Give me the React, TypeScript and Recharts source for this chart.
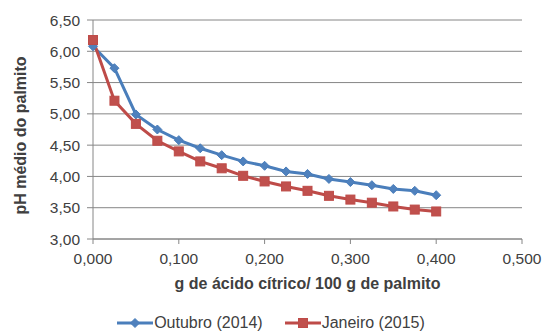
import React from 'react';
import { LineChart, Line, XAxis, YAxis, CartesianGrid, Legend } from 'recharts';

const doses = [0, 0.025, 0.05, 0.075, 0.1, 0.125, 0.15, 0.175, 0.2, 0.225, 0.25, 0.275, 0.3, 0.325, 0.35, 0.375, 0.4];
const outubro2014 = [6.08, 5.73, 4.99, 4.75, 4.58, 4.45, 4.34, 4.24, 4.17, 4.08, 4.04, 3.96, 3.91, 3.86, 3.8, 3.77, 3.7];
const janeiro2015 = [6.18, 5.21, 4.84, 4.57, 4.4, 4.24, 4.13, 4.01, 3.92, 3.84, 3.77, 3.69, 3.63, 3.58, 3.52, 3.47, 3.44];
const xTicks = [0, 0.1, 0.2, 0.3, 0.4, 0.5];
const yTicks = [3, 3.5, 4, 4.5, 5, 5.5, 6, 6.5];
const seriesNames = ['Outubro (2014)', 'Janeiro (2015)'];
const xTitle = 'g de ácido cítrico/ 100 g de palmito';
const yTitle = 'pH médio do palmito';

const data = doses.map((d, i) => ({ x: d, a: outubro2014[i], b: janeiro2015[i] }));

const BLUE = '#4A7EBB';
const BLUE_FILL = '#4F81BD';
const RED = '#BE4B48';
const RED_FILL = '#C0504D';
const FONT = '"Liberation Sans", Arial, sans-serif';
const AXIS = '#868686';
const TEXT = '#404040';

const fmt = (v: number, d: number) => v.toFixed(d).replace('.', ',');

const Diamond = (props: any) => {
  const { cx, cy } = props;
  if (cx == null || cy == null) return null;
  const r = 4.5;
  return <path d={`M${cx},${cy - r}L${cx + r},${cy}L${cx},${cy + r}L${cx - r},${cy}Z`} fill={BLUE_FILL} stroke={BLUE} strokeWidth={1} />;
};

const Square = (props: any) => {
  const { cx, cy } = props;
  if (cx == null || cy == null) return null;
  const r = 4.5;
  return <rect x={cx - r} y={cy - r} width={2 * r} height={2 * r} fill={RED_FILL} stroke={RED} strokeWidth={1} />;
};

const LegendContent = () => {
  const items = [
    { name: seriesNames[0], color: BLUE, fill: BLUE_FILL, shape: 'diamond' },
    { name: seriesNames[1], color: RED, fill: RED_FILL, shape: 'square' },
  ];
  return (
    <div style={{ display: 'flex', justifyContent: 'center', paddingTop: 14, fontFamily: FONT, fontSize: 16, color: TEXT }}>
      {items.map((it, i) => (
        <div key={it.name} style={{ display: 'flex', alignItems: 'center', marginLeft: i ? 22 : 0, height: 16 }}>
          <svg width={36} height={14} style={{ marginRight: 1 }}>
            <line x1={0} y1={7} x2={36} y2={7} stroke={it.color} strokeWidth={3} />
            {it.shape === 'diamond' ? (
              <path d="M18,2.5L22.5,7L18,11.5L13.5,7Z" fill={it.fill} stroke={it.color} />
            ) : (
              <rect x={13.5} y={2.5} width={9} height={9} fill={it.fill} stroke={it.color} />
            )}
          </svg>
          <span style={{ lineHeight: '16px' }}>{it.name}</span>
        </div>
      ))}
    </div>
  );
};

const XTitle = (props: any) => {
  const { viewBox } = props;
  const cx = viewBox.x + viewBox.width / 2;
  return (
    <text x={cx} y={289} textAnchor="middle" fontFamily={FONT} fontSize={16} fontWeight="bold" fill={TEXT}>
      {xTitle}
    </text>
  );
};

const YTitle = (props: any) => {
  const { viewBox } = props;
  const cy = viewBox.y + viewBox.height / 2 + 6;
  const x = 26;
  return (
    <text x={x} y={cy} transform={`rotate(-90, ${x}, ${cy})`} textAnchor="middle" fontFamily={FONT} fontSize={16} fontWeight="bold" fill={TEXT}>
      {yTitle}
    </text>
  );
};

export default function App() {
  return (
    <div style={{ position: 'absolute', left: 0, top: 0, width: 542, height: 331, background: '#fff' }}>
      <LineChart width={542} height={331} data={data} margin={{ top: 20, right: 20, left: 0, bottom: 0 }}>
        <CartesianGrid vertical={false} stroke={AXIS} strokeWidth={1} />
        <XAxis
          dataKey="x"
          type="number"
          domain={[0, 0.5]}
          ticks={xTicks}
          tickFormatter={(v: number) => fmt(v, 3)}
          height={62}
          tickSize={5}
          tickMargin={9}
          stroke={AXIS}
          tick={{ fill: TEXT, fontFamily: FONT, fontSize: 15.5 }}
          label={<XTitle />}
        />
        <YAxis
          type="number"
          domain={[3, 6.5]}
          ticks={yTicks}
          tickFormatter={(v: number) => fmt(v, 2)}
          width={93}
          tickSize={6}
          tickMargin={7}
          stroke={AXIS}
          tick={{ fill: TEXT, fontFamily: FONT, fontSize: 15.5 }}
          label={<YTitle />}
        />
        <Legend verticalAlign="bottom" height={30} wrapperStyle={{ left: 0, width: 542, height: 30 }} content={<LegendContent />} />
        <Line dataKey="a" name={seriesNames[0]} stroke={BLUE} strokeWidth={3} dot={<Diamond />} isAnimationActive={false} />
        <Line dataKey="b" name={seriesNames[1]} stroke={RED} strokeWidth={3} dot={<Square />} isAnimationActive={false} />
      </LineChart>
    </div>
  );
}
